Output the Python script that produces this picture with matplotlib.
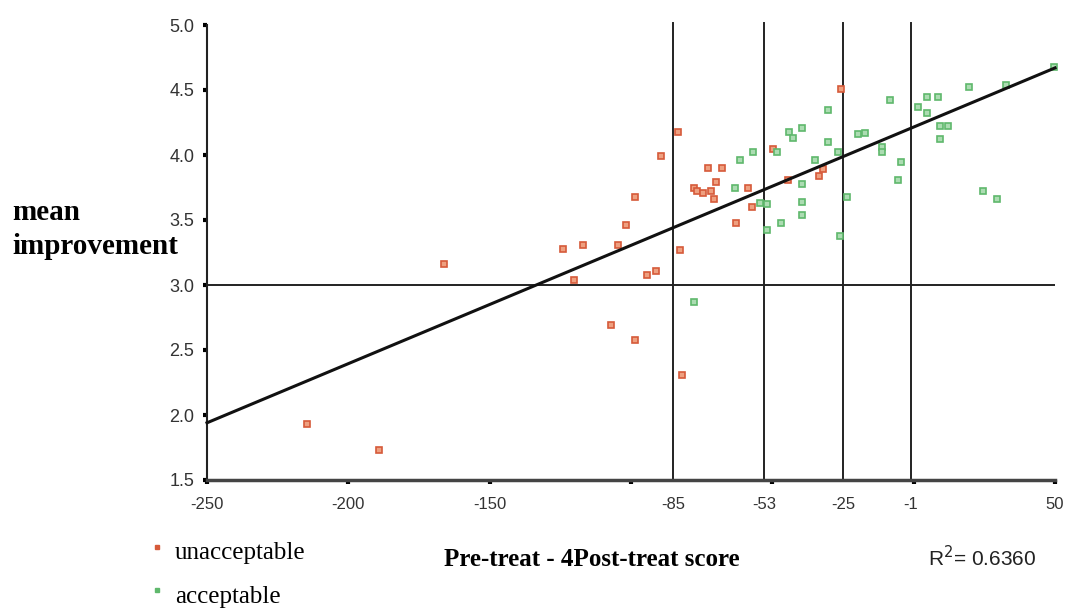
import matplotlib
matplotlib.use("Agg")
import numpy as np
from matplotlib import pyplot as plt

# values
unacceptable_x = [-214.6, -189.2, -166.2, -83.4, -89.4, -72.8, -67.8, -69.9, -77.7, -76.7,
                  -74.5, -71.7, -70.6, -98.6, -101.8, -124.1, -117.0, -104.6, -82.7, -94.3,
                  -91.2, -120.2, -107.1, -98.6, -82.0, -25.7, -49.8, -58.6, -57.2, -62.9,
                  -44.5, -33.5, -32.1]
unacceptable_y = [1.93, 1.73, 3.16, 4.18, 3.99, 3.90, 3.90, 3.79, 3.75, 3.72,
                  3.71, 3.72, 3.66, 3.68, 3.46, 3.28, 3.31, 3.31, 3.27, 3.08,
                  3.11, 3.04, 2.69, 2.58, 2.31, 4.51, 4.05, 3.75, 3.60, 3.48,
                  3.81, 3.84, 3.89]

acceptable_x = [-77.7, -8.4, -30.3, -44.1, -39.5, -42.7, -30.3, -19.7, -17.2, -26.8,
                -11.2, -11.2, -48.3, -56.8, -61.4, -34.9, -4.5, -5.5, -63.2, -39.5,
                -23.6, -54.4, -51.9, -39.5, -39.5, -46.9, -51.9, -26.1, 49.6, 32.7,
                19.6, 4.7, 8.6, 1.5, 4.7, 9.3, 12.1, 9.3, 24.5, 29.5]
acceptable_y = [2.87, 4.42, 4.35, 4.18, 4.21, 4.13, 4.10, 4.16, 4.17, 4.02,
                4.06, 4.02, 4.02, 4.02, 3.96, 3.96, 3.95, 3.81, 3.75, 3.78,
                3.68, 3.63, 3.62, 3.64, 3.54, 3.48, 3.42, 3.38, 4.68, 4.54,
                4.52, 4.45, 4.45, 4.37, 4.32, 4.22, 4.22, 4.12, 3.72, 3.66]

cutoffs = [-85, -53, -25, -1]
threshold = 3.0
fit_x = [-250, 50]
fit_y = [1.94, 4.67]
r_squared = 0.6360

major_ticks = [-250, -200, -150, -100, -50, 0, 50]
major_labels = ['-250', '-200', '-150', '', '', '', '50']
y_ticks = [1.5, 2.0, 2.5, 3.0, 3.5, 4.0, 4.5, 5.0]

sans = ['Liberation Sans', 'DejaVu Sans']
serif = ['Liberation Serif', 'DejaVu Serif']
red = '#d65a3a'
green = '#5fb86c'

fig = plt.figure(figsize=(10.73, 6.10), dpi=100)
ax = fig.add_axes([207 / 1073, 1 - 480 / 610, 848 / 1073, 455 / 610])

ax.plot(unacceptable_x, unacceptable_y, 's', ms=4.5, mfc='#eea080', mec=red, mew=1.2,
        linestyle='none', clip_on=False, zorder=3)
ax.plot(acceptable_x, acceptable_y, 's', ms=4.5, mfc='#acdcb2', mec=green, mew=1.2,
        linestyle='none', clip_on=False, zorder=3)

for c in cutoffs:
    ax.axvline(c, ymin=0, ymax=1.005, color='#222222', lw=1.4, clip_on=False, zorder=2)
ax.axhline(threshold, color='#222222', lw=1.4, zorder=2)
ax.plot(fit_x, fit_y, color='#111111', lw=2.2, clip_on=False, zorder=4)

ax.set_xlim(-250, 50)
ax.set_ylim(1.5, 5.0)
ax.spines['top'].set_visible(False)
ax.spines['right'].set_visible(False)
ax.spines['left'].set_linewidth(1.5)
ax.spines['left'].set_color('#222222')
ax.spines['bottom'].set_linewidth(2.5)
ax.spines['bottom'].set_color('#444444')

ax.set_xticks(major_ticks)
ax.set_xticklabels(major_labels, family=sans, fontsize=12, color='#333333')
ax.set_xticks(cutoffs, minor=True)
ax.set_xticklabels([str(c) for c in cutoffs], minor=True, family=sans, fontsize=12,
                   color='#333333')
ax.tick_params(axis='x', which='major', direction='out', length=3, width=3, pad=9)
ax.tick_params(axis='x', which='minor', length=0, pad=12)

ax.set_yticks(y_ticks)
ax.set_yticklabels(['%.1f' % v for v in y_ticks], family=sans, fontsize=13,
                   color='#333333')
ax.tick_params(axis='y', direction='out', length=3, width=3, pad=6)

fig.text(12 / 1073, 1 - 213 / 610, 'mean', family=serif, fontweight='bold',
         fontsize=21, ha='left', va='center')
fig.text(12 / 1073, 1 - 246 / 610, 'improvement', family=serif, fontweight='bold',
         fontsize=21, ha='left', va='center')
fig.text(592 / 1073, 1 - 560 / 610, 'Pre-treat - 4Post-treat score', family=serif,
         fontweight='bold', fontsize=18, ha='center', va='center')
fig.text(928 / 1073, 1 - 558 / 610, 'R$^2$= %.4f' % r_squared, family=sans,
         fontsize=15, ha='left', va='center', color='#222222')

# legend drawn by hand, like the original
fig.text(175 / 1073, 1 - 553 / 610, 'unacceptable', family=serif, fontsize=18,
         ha='left', va='center')
fig.text(175 / 1073, 1 - 597 / 610, 'acceptable', family=serif, fontsize=18,
         ha='left', va='center')
fig.lines.append(plt.Line2D([157 / 1073], [1 - 547 / 610], marker='s', ms=3, color=red,
                            transform=fig.transFigure, linestyle='none'))
fig.lines.append(plt.Line2D([157 / 1073], [1 - 590 / 610], marker='s', ms=3, color=green,
                            transform=fig.transFigure, linestyle='none'))

fig.savefig('out.png', dpi=100, facecolor='white')
